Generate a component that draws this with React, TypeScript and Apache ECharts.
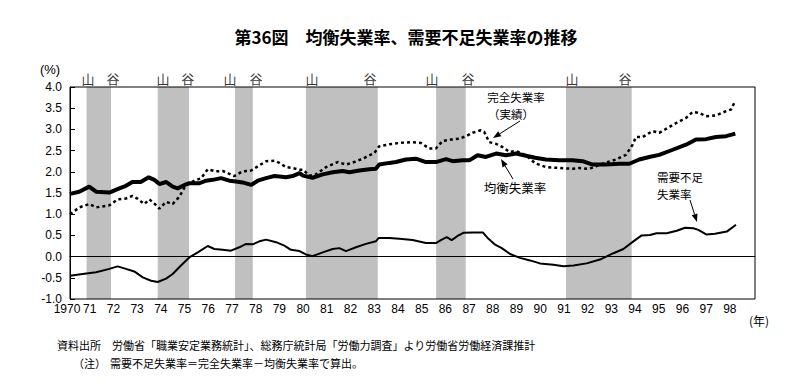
import React, { useEffect, useRef } from "react";
import * as echarts from "echarts";

// ---- data (year as decimal, value in %) ----
const equilibriumRate: [number, number][] = [
  [1970.17, 1.48], [1970.56, 1.53], [1970.98, 1.65], [1971.27, 1.53], [1971.83, 1.51],
  [1972.25, 1.61], [1972.53, 1.67], [1972.8, 1.76], [1973.15, 1.76], [1973.49, 1.87],
  [1973.73, 1.81], [1973.94, 1.71], [1974.22, 1.76], [1974.5, 1.65], [1974.71, 1.61],
  [1975.0, 1.69], [1975.21, 1.73], [1975.63, 1.73], [1975.91, 1.79], [1976.19, 1.81],
  [1976.54, 1.85], [1976.89, 1.79], [1977.17, 1.77], [1977.45, 1.75], [1977.81, 1.69],
  [1978.09, 1.79], [1978.44, 1.85], [1978.79, 1.9], [1979.0, 1.89], [1979.28, 1.87],
  [1979.56, 1.9], [1979.85, 1.97], [1980.0, 1.91], [1980.4, 1.86], [1980.83, 1.94],
  [1981.25, 1.99], [1981.67, 2.02], [1981.95, 1.99], [1982.37, 2.03], [1982.8, 2.06],
  [1983.07, 2.07], [1983.21, 2.17], [1983.64, 2.21], [1983.92, 2.23], [1984.34, 2.29],
  [1984.76, 2.31], [1985.18, 2.23], [1985.6, 2.23], [1986.03, 2.3], [1986.31, 2.25],
  [1986.73, 2.27], [1987.01, 2.27], [1987.36, 2.39], [1987.71, 2.35], [1988.14, 2.43],
  [1988.56, 2.39], [1988.98, 2.43], [1989.4, 2.38], [1989.79, 2.33], [1990.24, 2.29],
  [1990.81, 2.27], [1991.37, 2.27], [1991.79, 2.25], [1992.21, 2.17], [1992.77, 2.17],
  [1993.34, 2.19], [1993.76, 2.19], [1994.18, 2.29], [1994.6, 2.35], [1995.02, 2.4],
  [1995.59, 2.52], [1996.15, 2.64], [1996.57, 2.76], [1996.99, 2.77], [1997.41, 2.82],
  [1997.84, 2.84], [1998.23, 2.9],
];

const actualRate: [number, number][] = [
  [1970.17, 1.0], [1970.56, 1.16], [1970.98, 1.24], [1971.27, 1.16], [1971.83, 1.21],
  [1972.18, 1.35], [1972.53, 1.37], [1972.8, 1.43], [1973.01, 1.37], [1973.3, 1.24],
  [1973.52, 1.35], [1973.73, 1.25], [1973.94, 1.13], [1974.22, 1.29], [1974.5, 1.24],
  [1974.78, 1.41], [1975.06, 1.69], [1975.42, 1.79], [1975.7, 1.85], [1975.98, 2.06],
  [1976.33, 2.01], [1976.61, 2.02], [1976.89, 1.95], [1977.1, 1.9], [1977.45, 2.01],
  [1977.81, 2.03], [1978.09, 2.13], [1978.44, 2.25], [1978.79, 2.26], [1979.0, 2.21],
  [1979.28, 2.11], [1979.56, 2.09], [1979.85, 2.05], [1980.0, 2.05], [1980.26, 1.91],
  [1980.54, 1.94], [1980.97, 2.11], [1981.46, 2.23], [1981.81, 2.17], [1982.16, 2.23],
  [1982.51, 2.31], [1983.0, 2.44], [1983.21, 2.6], [1983.64, 2.65], [1984.06, 2.68],
  [1984.55, 2.7], [1984.97, 2.68], [1985.32, 2.55], [1985.6, 2.55], [1985.89, 2.73],
  [1986.24, 2.76], [1986.59, 2.78], [1986.87, 2.84], [1987.15, 2.92], [1987.5, 2.98],
  [1987.64, 2.94], [1987.85, 2.7], [1988.14, 2.66], [1988.42, 2.58], [1988.7, 2.47],
  [1988.98, 2.49], [1989.4, 2.39], [1989.79, 2.2], [1990.24, 2.11], [1990.81, 2.09],
  [1991.37, 2.07], [1991.65, 2.09], [1992.07, 2.07], [1992.35, 2.13], [1992.77, 2.22],
  [1993.2, 2.29], [1993.62, 2.4], [1993.9, 2.64], [1994.04, 2.82], [1994.32, 2.82],
  [1994.74, 2.96], [1995.02, 2.92], [1995.3, 3.01], [1995.73, 3.15], [1996.15, 3.27],
  [1996.43, 3.41], [1996.71, 3.39], [1996.99, 3.31], [1997.41, 3.33], [1997.84, 3.43],
  [1998.05, 3.47], [1998.19, 3.63],
];

const demandDeficientRate: [number, number][] = [
  [1970.17, -0.45], [1970.7, -0.41], [1971.27, -0.37], [1971.83, -0.29], [1972.18, -0.23],
  [1972.53, -0.29], [1972.88, -0.35], [1973.24, -0.49], [1973.59, -0.57], [1973.87, -0.6],
  [1974.22, -0.52], [1974.5, -0.41], [1974.85, -0.21], [1975.2, -0.02], [1975.56, 0.1],
  [1975.98, 0.25], [1976.26, 0.18], [1976.61, 0.16], [1976.96, 0.14], [1977.31, 0.22],
  [1977.6, 0.3], [1977.88, 0.29], [1978.16, 0.36], [1978.44, 0.4], [1978.86, 0.34],
  [1979.21, 0.26], [1979.49, 0.16], [1979.85, 0.13], [1980.12, 0.05], [1980.4, 0.01],
  [1980.83, 0.1], [1981.25, 0.18], [1981.53, 0.2], [1981.81, 0.13], [1982.23, 0.22],
  [1982.65, 0.3], [1983.07, 0.36], [1983.19, 0.44], [1983.64, 0.44], [1984.06, 0.42],
  [1984.62, 0.39], [1985.18, 0.32], [1985.6, 0.32], [1985.85, 0.4], [1986.06, 0.46],
  [1986.27, 0.39], [1986.5, 0.48], [1986.76, 0.56], [1987.18, 0.57], [1987.58, 0.57],
  [1987.82, 0.42], [1988.1, 0.28], [1988.38, 0.2], [1988.73, 0.06], [1989.15, -0.03],
  [1989.57, -0.09], [1989.99, -0.16], [1990.56, -0.19], [1990.98, -0.23], [1991.4, -0.21],
  [1991.96, -0.16], [1992.52, -0.07], [1993.09, 0.08], [1993.51, 0.18], [1993.93, 0.36],
  [1994.28, 0.5], [1994.63, 0.51], [1994.91, 0.55], [1995.34, 0.55], [1995.76, 0.61],
  [1996.11, 0.68], [1996.46, 0.67], [1996.67, 0.63], [1997.02, 0.52], [1997.37, 0.54],
  [1997.87, 0.59], [1998.26, 0.75],
];

// recession bands (peak -> trough)
const recessionBands: [number, number][] = [
  [1970.87, 1971.9], [1973.87, 1975.19], [1977.13, 1977.88],
  [1980.12, 1983.15], [1985.61, 1986.86], [1991.09, 1993.86],
];
const peakLabelYears = [1970.93, 1974.09, 1976.92, 1980.38, 1985.44, 1991.34];
const troughLabelYears = [1971.98, 1975.14, 1978.01, 1982.82, 1986.96, 1993.58];

const xMin = 1970.17;
const xMax = 1999.06;
const xTickYears = Array.from({ length: 28 }, (_, i) => 1971 + i);
const yMin = -1;
const yMax = 4;
const yInterval = 0.5;

const GRID = { left: 70, top: 87, right: 47, bottom: 93 };
const W = 802;
const H = 392;
const JP = '"Noto Sans CJK JP", sans-serif';
const NUM = '"Liberation Sans", Arial, sans-serif';

function arrow(x1: number, y1: number, x2: number, y2: number) {
  const ang = Math.atan2(y2 - y1, x2 - x1);
  const len = 8;
  const hw = 3;
  const bx = x2 - len * Math.cos(ang);
  const by = y2 - len * Math.sin(ang);
  const px = -Math.sin(ang) * hw;
  const py = Math.cos(ang) * hw;
  return [
    { type: "line", shape: { x1, y1, x2: bx, y2: by }, style: { stroke: "#000", lineWidth: 1 }, z: 100 },
    {
      type: "polygon",
      shape: { points: [[x2, y2], [bx + px, by + py], [bx - px, by - py]] },
      style: { fill: "#000" },
      z: 100,
    },
  ];
}

function txt(text: string, x: number, y: number, size: number, align = "center", bold = false, font = JP) {
  return {
    type: "text",
    x,
    y,
    z: 100,
    style: {
      text,
      fill: "#000",
      font: `${bold ? "bold " : ""}${size}px ${font}`,
      textAlign: align,
      textVerticalAlign: "middle",
    },
  };
}

export default function App() {
  const ref = useRef<HTMLDivElement>(null);
  useEffect(() => {
    if (!ref.current) return;
    const chart = echarts.init(ref.current, null, { renderer: "svg" });
    const plotW = W - GRID.left - GRID.right;
    const plotH = H - GRID.top - GRID.bottom;

    const cycleLabels = [
      ...peakLabelYears.map((x) => ({ value: [x, yMax], name: "山" })),
      ...troughLabelYears.map((x) => ({ value: [x, yMax], name: "谷" })),
    ];

    chart.setOption({
      animation: false,
      backgroundColor: "#fff",
      grid: { ...GRID, containLabel: false },
      xAxis: {
        type: "value",
        min: xMin,
        max: xMax,
        axisLine: { show: true, lineStyle: { color: "#000", width: 1 } },
        axisTick: { show: false },
        splitLine: { show: false },
        axisLabel: {
          customValues: [xMin, ...xTickYears],
          color: "#000",
          fontSize: 12,
          fontFamily: NUM,
          margin: 4,
          formatter: (v: number) =>
            v < 1970.5 ? "{first|1970}" : String(Math.round(v) % 100).padStart(2, "0"),
          rich: {
            first: { fontSize: 12, fontFamily: NUM, color: "#000", padding: [0, 6, 0, 0] },
          },
        },
      },
      yAxis: {
        type: "value",
        min: yMin,
        max: yMax,
        interval: yInterval,
        axisLine: { show: true, lineStyle: { color: "#000", width: 1 } },
        axisTick: { show: true, inside: true, length: 5, lineStyle: { color: "#000" } },
        splitLine: { show: false },
        axisLabel: {
          color: "#000",
          fontSize: 12,
          fontFamily: NUM,
          margin: 8,
          formatter: (v: number) => v.toFixed(1),
        },
      },
      series: [
        {
          name: "bands",
          type: "line",
          z: 1,
          silent: true,
          data: demandDeficientRate,
          showSymbol: false,
          lineStyle: { opacity: 0 },
          markArea: {
            silent: true,
            itemStyle: { color: "#c0c0c0", opacity: 1 },
            data: recessionBands.map(([a, b]) => [{ xAxis: a }, { xAxis: b }]),
          },
        },
        {
          name: "zero",
          type: "line",
          z: 2,
          silent: true,
          data: demandDeficientRate,
          showSymbol: false,
          lineStyle: { opacity: 0 },
          markLine: {
            silent: true,
            symbol: "none",
            label: { show: false },
            lineStyle: { color: "#000", width: 1, type: "solid" },
            data: [{ yAxis: 0 }],
          },
        },
        {
          name: "完全失業率（実績）",
          type: "line",
          z: 3,
          data: actualRate,
          showSymbol: false,
          lineStyle: { color: "#000", width: 2.5, type: [3, 3] },
        },
        {
          name: "均衡失業率",
          type: "line",
          z: 4,
          data: equilibriumRate,
          showSymbol: false,
          lineStyle: { color: "#000", width: 4 },
        },
        {
          name: "需要不足失業率",
          type: "line",
          z: 4,
          data: demandDeficientRate,
          showSymbol: false,
          lineStyle: { color: "#000", width: 2 },
        },
        {
          name: "cycle",
          type: "scatter",
          clip: false,
          silent: true,
          symbolSize: 0,
          data: cycleLabels,
          label: {
            show: true,
            position: "top",
            distance: 2,
            formatter: (p: any) => p.name,
            color: "#000",
            fontSize: 13,
            fontFamily: JP,
          },
        },
      ],
      graphic: [
        {
          type: "rect",
          z: 100,
          silent: true,
          shape: { x: GRID.left, y: GRID.top, width: plotW, height: plotH },
          style: { fill: "none", stroke: "#000", lineWidth: 1 },
        },
        txt("第36図　均衡失業率、需要不足失業率の推移", 406, 36, 17, "center", true),
        txt("(%)", 50, 69, 13, "center", false, NUM),
        txt("(年)", 759, 320, 12, "center", false, JP),
        txt("完全失業率", 516, 97, 11.5),
        txt("（実績）", 511, 114, 11.5),
        txt("均衡失業率", 515, 187, 12.5),
        txt("需要不足", 657, 176.5, 11.5, "left"),
        txt("失業率", 657, 193.5, 11.5, "left"),
        ...arrow(520, 121, 493, 138),
        ...arrow(513, 179, 501, 159),
        ...arrow(690, 200, 697, 222),
        txt("資料出所", 57, 345, 11, "left"),
        txt("労働省「職業安定業務統計」、総務庁統計局「労働力調査」より労働省労働経済課推計", 112, 345, 11, "left"),
        txt("（注）", 73, 363, 11, "left"),
        txt("需要不足失業率＝完全失業率－均衡失業率で算出。", 110, 363, 11, "left"),
      ],
    });
    return () => chart.dispose();
  }, []);
  return (
    <div
      ref={ref}
      style={{ position: "absolute", left: 0, top: 0, width: W, height: H }}
    />
  );
}
